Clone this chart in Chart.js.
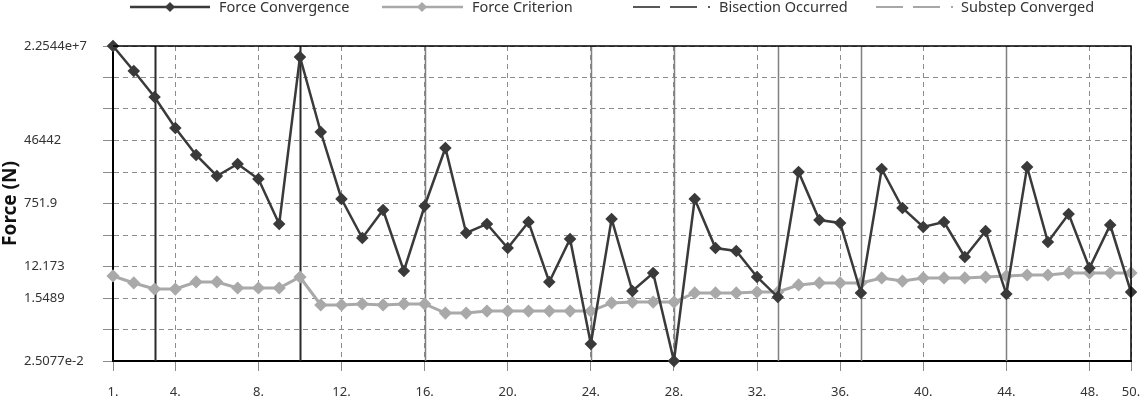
<!DOCTYPE html>
<html><head><meta charset="utf-8">
<script src="https://cdn.jsdelivr.net/npm/chart.js@4/dist/chart.umd.min.js"></script>
<style>html,body{margin:0;padding:0;background:#fff;overflow:hidden}#wrap{position:relative;width:1141px;height:397px}</style>
</head><body><div id="wrap"><canvas id="c" width="1141" height="397"></canvas></div>
<script>
const steps = [1,2,3,4,5,6,7,8,9,10,11,12,13,14,15,16,17,18,19,20,21,22,23,24,25,26,27,28,29,30,31,32,33,34,35,36,37,38,39,40,41,42,43,44,45,46,47,48,49,50];
const forceConvergence = [2.2544e7,4.39e6,8.0e5,1.05e5,1.8e4,4550,9980,3740,197,1.1e7,
  8.1e4,1010,78.7,492,9.07,638,2.85e4,109,197,40.8,
  224,4.42,73.6,0.0763,273,2.45,7.96,0.0251,1010,40.8,
  33.6,6.12,1.65,5910,255,210,2.15,7190,560,162,
  224,22.7,124,2.01,8200,60.6,378,11.0,184,2.29];
const forceCriterion = [6.54,4.14,2.79,2.79,4.42,4.42,2.98,2.98,2.98,6.12,
  0.98,0.98,1.05,0.98,1.05,1.05,0.58,0.58,0.66,0.66,
  0.66,0.66,0.66,0.66,1.12,1.19,1.19,1.19,2.15,2.15,
  2.15,2.29,2.29,3.63,4.14,4.14,4.14,5.74,4.71,5.74,
  5.74,5.74,6.12,6.54,6.98,6.98,7.96,7.96,7.96,7.96];
const bisectionSteps = [3, 10];
const substepSteps = [16, 24, 28, 33, 37, 44];
const xTickValues = [1,4,8,12,16,20,24,28,32,36,40,44,48,50];
const xTickLabels = ['1.','4.','8.','12.','16.','20.','24.','28.','32.','36.','40.','44.','48.','50.'];
const yGridValues = [0.025077,0.19708,1.5489,12.173,95.67,751.9,5909,46442,364990,2868500,22544000];
const yTickLabels = ['2.5077e-2','','1.5489','12.173','','751.9','','46442','','','2.2544e+7'];
const seriesNames = ['Force Convergence','Force Criterion','Bisection Occurred','Substep Converged'];
const yTitle = 'Force (N)';

const FONT = '"Noto Sans", "Open Sans", sans-serif';
const DARK = '#3a3a3a', LIGHT = '#a9a9a9', GRID = '#8c8c8c';

const overlay = {
  id: 'overlay',
  beforeDatasetsDraw(chart) {
    const {ctx, chartArea: a, scales: {x}} = chart;
    ctx.save();
    substepSteps.forEach(s => {
      const px = Math.round(x.getPixelForValue(s)) + 0.5;
      ctx.strokeStyle = '#808080'; ctx.lineWidth = 1.5; ctx.setLineDash([]);
      ctx.beginPath(); ctx.moveTo(px, a.top); ctx.lineTo(px, a.bottom); ctx.stroke();
    });
    bisectionSteps.forEach(s => {
      const px = Math.round(x.getPixelForValue(s)) + 0.5;
      ctx.strokeStyle = '#2a2a2a'; ctx.lineWidth = 2; ctx.setLineDash([]);
      ctx.beginPath(); ctx.moveTo(px, a.top); ctx.lineTo(px, a.bottom); ctx.stroke();
    });
    ctx.restore();
  },
  afterDraw(chart) {
    const {ctx, chartArea: a} = chart;
    ctx.save();
    ctx.strokeStyle = '#000'; ctx.lineWidth = 1.5; ctx.setLineDash([]);
    ctx.beginPath(); ctx.moveTo(a.left, a.top); ctx.lineTo(a.right, a.top); ctx.lineTo(a.right, a.bottom); ctx.stroke();
    ctx.translate(11, (a.top + a.bottom) / 2);
    ctx.rotate(-Math.PI / 2);
    ctx.font = 'bold 19px ' + FONT; ctx.fillStyle = '#111';
    ctx.textAlign = 'center'; ctx.textBaseline = 'middle';
    ctx.fillText(yTitle, 0, 0);
    ctx.restore();
    ctx.save();
    const ly = 7;
    ctx.font = '14.5px ' + FONT; ctx.fillStyle = '#333'; ctx.textBaseline = 'middle'; ctx.textAlign = 'left';
    const marker = (cx, color) => {
      ctx.fillStyle = color; ctx.beginPath();
      ctx.moveTo(cx, ly - 5); ctx.lineTo(cx + 5, ly); ctx.lineTo(cx, ly + 5); ctx.lineTo(cx - 5, ly); ctx.closePath(); ctx.fill();
    };
    ctx.lineWidth = 2.5; ctx.strokeStyle = DARK;
    ctx.beginPath(); ctx.moveTo(130, ly); ctx.lineTo(210, ly); ctx.stroke(); marker(170, DARK);
    ctx.fillStyle = '#333'; ctx.fillText(seriesNames[0], 219, ly + 1);
    ctx.lineWidth = 2.5; ctx.strokeStyle = LIGHT;
    ctx.beginPath(); ctx.moveTo(382, ly); ctx.lineTo(463, ly); ctx.stroke(); marker(422, LIGHT);
    ctx.fillStyle = '#333'; ctx.fillText(seriesNames[1], 472, ly + 1);
    const dashed = (x0, color) => {
      ctx.strokeStyle = color; ctx.lineWidth = 1.5;
      ctx.beginPath(); ctx.moveTo(x0, ly); ctx.lineTo(x0 + 27, ly); ctx.moveTo(x0 + 37, ly); ctx.lineTo(x0 + 64, ly);
      ctx.moveTo(x0 + 75, ly); ctx.lineTo(x0 + 77, ly); ctx.stroke();
    };
    dashed(633, '#222'); ctx.fillStyle = '#333'; ctx.fillText(seriesNames[2], 719, ly + 1);
    dashed(876, '#8a8a8a'); ctx.fillStyle = '#333'; ctx.fillText(seriesNames[3], 961, ly + 1);
    ctx.restore();
  }
};

new Chart(document.getElementById('c'), {
  type: 'line',
  data: {
    datasets: [
      { label: seriesNames[0], data: steps.map((s, i) => ({x: s, y: forceConvergence[i]})),
        borderColor: DARK, backgroundColor: DARK, borderWidth: 2.5, pointStyle: 'rectRot', pointRadius: 4.5,
        pointBackgroundColor: DARK, pointBorderColor: DARK, tension: 0, clip: false },
      { label: seriesNames[1], data: steps.map((s, i) => ({x: s, y: forceCriterion[i]})),
        borderColor: LIGHT, backgroundColor: LIGHT, borderWidth: 3, pointStyle: 'rectRot', pointRadius: 4.5,
        pointBackgroundColor: LIGHT, pointBorderColor: LIGHT, tension: 0, clip: false }
    ]
  },
  options: {
    responsive: false, animation: false, events: [],
    layout: { padding: { left: 24, right: 10, top: 46, bottom: 0 } },
    plugins: { legend: { display: false }, tooltip: { enabled: false } },
    scales: {
      x: {
        type: 'linear', min: 1, max: 50,
        afterBuildTicks: s => { s.ticks = xTickValues.map(v => ({ value: v })); },
        afterFit: s => { s.height = 36; s.paddingLeft = 0; s.paddingRight = 0; },
        ticks: { autoSkip: false, maxRotation: 0, padding: 13, color: '#333', font: { family: FONT, size: 13 },
          callback: (v, i) => xTickLabels[i] },
        grid: { color: GRID, lineWidth: 1, tickLength: 10, tickColor: GRID },
        border: { display: true, color: '#000', width: 2, dash: [5, 4] }
      },
      y: {
        type: 'logarithmic', min: yGridValues[0], max: yGridValues[yGridValues.length - 1],
        afterBuildTicks: s => { s.ticks = yGridValues.map(v => ({ value: v })); },
        afterFit: s => { s.width = 89; s.paddingTop = 0; s.paddingBottom = 0; },
        ticks: { autoSkip: false, crossAlign: 'far', color: '#333', font: { family: FONT, size: 13 },
          callback: (v, i) => yTickLabels[i] },
        grid: { color: GRID, lineWidth: 1, tickLength: 10, tickColor: GRID },
        border: { display: true, color: '#000', width: 2, dash: [5, 4] }
      }
    }
  },
  plugins: [overlay]
});
</script></body></html>
